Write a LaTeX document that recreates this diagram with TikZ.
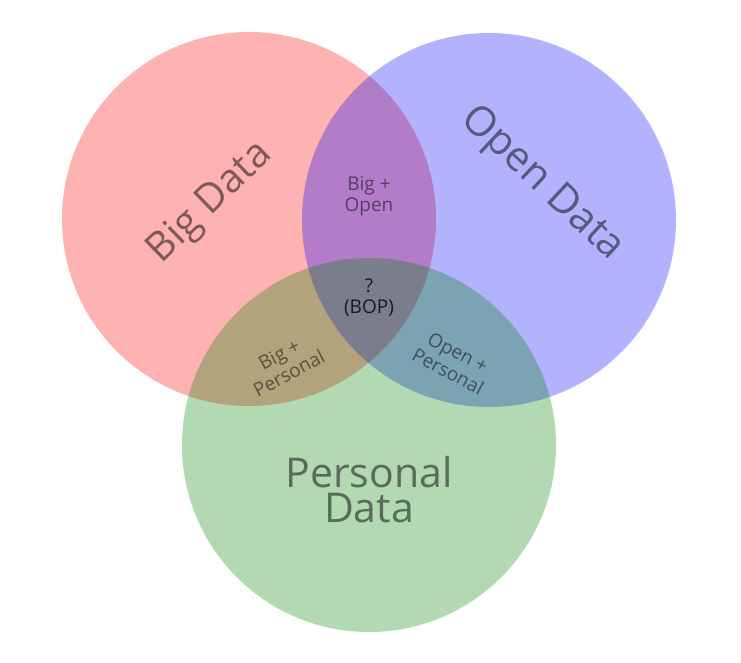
\documentclass[tikz,border=0pt]{standalone}
\usepackage{fontspec}
\setmainfont{Open Sans}
\usepackage{tikz}
\usetikzlibrary{positioning}

\begin{document}
\begin{tikzpicture}[
    x=1pt, y=-1pt,
    set/.style={circle, draw=none, fill opacity=0.3, minimum size=374pt, inner sep=0pt},
    biglabel/.style={text opacity=0.5, align=center, inner sep=0pt, font=\fontsize{41}{35}\selectfont},
    smalllabel/.style={text opacity=0.5, align=center, inner sep=0pt, font=\fontsize{19}{21}\selectfont},
]
\useasboundingbox (0,0) rectangle (741,663);

% the three sets
\node[set, fill=red] (big) at (249, 219) {};
\node[set, fill=blue] (open) at (489, 220) {};
\node[set, fill={rgb,255:red,0;green,128;blue,0}] (personal) at (369, 445) {};

% set names
\node[biglabel, rotate=44, font=\fontsize{40}{35}\selectfont] (bigname) at (211, 203) {Big Data};
\node[biglabel, rotate=-43] (openname) at (542, 184) {Open Data};
\node[biglabel] (personalname) at (369, 490) {Personal\\Data};

% overlaps
\node[smalllabel] (bigopen) at (369, 196) {Big +\\Open};
\node[smalllabel, rotate=28] (bigpersonal) at (284, 364) {Big +\\Personal};
\node[smalllabel, rotate=-28] (openpersonal) at (453, 362) {Open +\\Personal};
\node[smalllabel, text opacity=0.8] (bop) at (369, 298) {?\\(BOP)};
\end{tikzpicture}
\end{document}
